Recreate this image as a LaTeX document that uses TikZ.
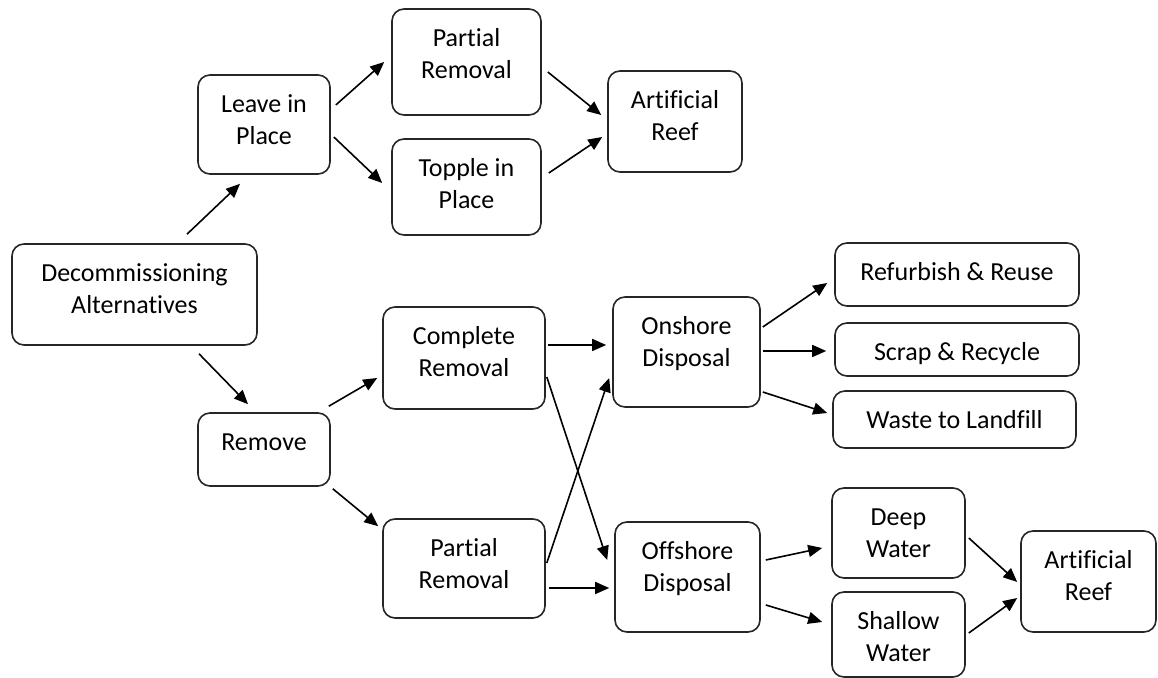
\documentclass[tikz,border=0pt]{standalone}
\usepackage{fontspec}
\setmainfont[Ligatures=NoCommon]{Carlito}
\usepackage{tikz}
\usetikzlibrary{positioning,arrows.meta}

\tikzset{
  box/.style 2 args={draw=black!85, line width=0.8pt, rounded corners=6pt,
    inner sep=0pt, text width=#1, align=flush center,
    text height=19pt, text depth=#2,
    font=\fontsize{13pt}{16pt}\selectfont}
}

\begin{document}
\begin{tikzpicture}[on grid,auto,>={Triangle[length=7pt,width=6pt]},line width=0.8pt]
	 			\useasboundingbox (-67.25pt,147.25pt) rectangle (511.75pt,-191.75pt);
	 			\node[box={122.5pt}{31.5pt}] (dec) {Decommissioning\\Alternatives};
	 			\node[box={66pt}{30.5pt}] (leave) [above right=85pt and 64.75pt of dec] {Leave in\\Place};
	 			\node[box={66pt}{17.5pt}] (remove) [below right=77.5pt and 64.75pt of dec] {Remove};
	 			\node[box={74.5pt}{34pt}] (ptop) [above right=31.25pt and 101.25pt of leave] {Partial\\Removal};
	 			\node[box={74.5pt}{29pt}] (topple) [below=62.5pt of ptop] {Topple in\\Place};
	 			\node[box={67pt}{31.5pt}] (reef1) [below right=29.75pt and 104.25pt of ptop] {Artificial\\Reef};
	 			\node[box={81pt}{32pt}] (complete) [above right=45.75pt and 100pt of remove] {Complete\\Removal};
	 			\node[box={81pt}{30.5pt}] (pbot) [below=105.25pt of complete] {Partial\\Removal};
	 			\node[box={73.5pt}{36pt}] (onshore) [above right=3pt and 111.25pt of complete] {Onshore\\Disposal};
	 			\node[box={72.5pt}{36pt}] (offshore) [below right=112.5pt and 0.5pt of onshore] {Offshore\\Disposal};
	 			\node[box={122pt}{12.5pt}] (refurb) [above right=38.75pt and 135.25pt of onshore] {Refurbish \& Reuse};
	 			\node[box={122pt}{7.5pt}] (scrap) [below=37.5pt of refurb] {Scrap \& Recycle};
	 			\node[box={121.5pt}{9.5pt}] (waste) [below left=35pt and 1.25pt of scrap] {Waste to Landfill};
	 			\node[box={66.5pt}{26pt}] (deep) [above right=22pt and 105.5pt of offshore] {Deep\\Water};
	 			\node[box={66.5pt}{23.5pt}] (shallow) [below=50.75pt of deep] {Shallow\\Water};
	 			\node[box={67.5pt}{31.5pt}] (reef2) [below right=24.25pt and 95pt of deep] {Artificial\\Reef};
	 			\path[->]
	 			([shift={(26.25pt,4.5pt)}]dec.north)
	 			edge ([shift={(-12pt,-4.5pt)}]leave.south)
	 			([shift={(32.25pt,-4pt)}]dec.south)
	 			edge ([shift={(-8pt,4pt)}]remove.north)
	 			([shift={(2.5pt,9.75pt)}]leave.east)
	 			edge ([shift={(-3.5pt,0pt)}]ptop.west)
	 			([shift={(1.5pt,-6.25pt)}]leave.east)
	 			edge ([shift={(-4.5pt,2pt)}]topple.west)
	 			([shift={(3pt,-5pt)}]ptop.east)
	 			edge ([shift={(-3pt,3.25pt)}]reef1.west)
	 			([shift={(3.5pt,7pt)}]topple.east)
	 			edge ([shift={(-2.5pt,-7.75pt)}]reef1.west)
	 			([shift={(-1pt,3pt)}]remove.north east)
	 			edge ([shift={(-2.5pt,-10pt)}]complete.west)
	 			([shift={(1pt,-1pt)}]remove.south east)
	 			edge ([shift={(-2pt,-4pt)}]pbot.north west)
	 			([shift={(1pt,6.5pt)}]complete.east)
	 			edge ([shift={(-3pt,3.5pt)}]onshore.west)
	 			([shift={(0.5pt,-9.5pt)}]complete.east)
	 			edge ([shift={(-3.5pt,8.5pt)}]offshore.west)
	 			([shift={(0.5pt,2.75pt)}]pbot.east)
	 			edge ([shift={(-1.5pt,-13pt)}]onshore.west)
	 			([shift={(1.5pt,-9.75pt)}]pbot.east)
	 			edge ([shift={(-2.5pt,-5.5pt)}]offshore.west)
	 			([shift={(1pt,12.5pt)}]onshore.east)
	 			edge ([shift={(-3.5pt,-4.25pt)}]refurb.west)
	 			([shift={(1pt,0.5pt)}]onshore.east)
	 			edge ([shift={(-4pt,-0.75pt)}]scrap.west)
	 			([shift={(1pt,-20pt)}]onshore.east)
	 			edge ([shift={(-2.5pt,3.25pt)}]waste.west)
	 			([shift={(2.5pt,8.5pt)}]offshore.east)
	 			edge ([shift={(-4.5pt,-7.5pt)}]deep.west)
	 			([shift={(2.5pt,-14pt)}]offshore.east)
	 			edge ([shift={(-4.5pt,6.25pt)}]shallow.west)
	 			([shift={(1.5pt,-2.5pt)}]deep.east)
	 			edge ([shift={(-1.5pt,-0.25pt)}]reef2.west)
	 			([shift={(1.5pt,0.75pt)}]shallow.east)
	 			edge ([shift={(-1.5pt,-8.25pt)}]reef2.west);
	 		\end{tikzpicture}
\end{document}
